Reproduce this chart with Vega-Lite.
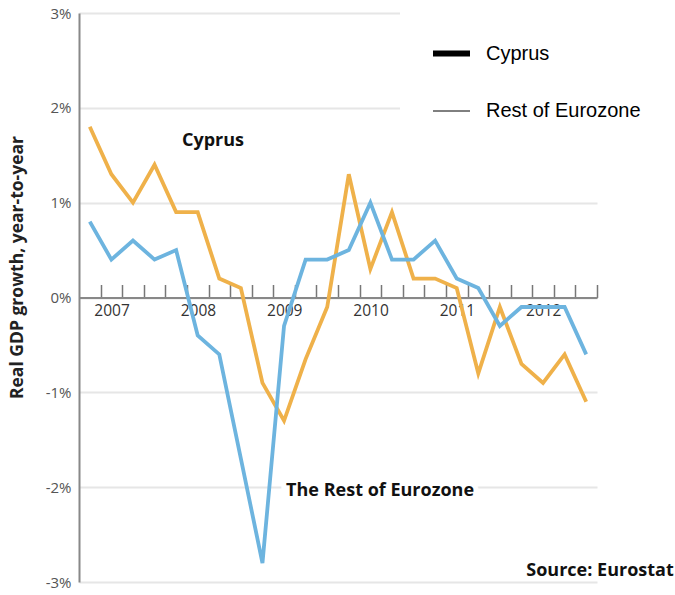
{
  "$schema": "https://vega.github.io/schema/vega-lite/v6.json",
  "width": 518,
  "height": 569,
  "autosize": "none",
  "padding": {"left": 79, "top": 13, "right": 78, "bottom": 13},
  "background": "white",
  "config": {"view": {"stroke": null}, "font": "Open Sans"},
  "datasets": {
    "gdp": [
      {"t": 0, "v": 1.8, "series": "Cyprus"},
      {"t": 1, "v": 1.3, "series": "Cyprus"},
      {"t": 2, "v": 1.0, "series": "Cyprus"},
      {"t": 3, "v": 1.4, "series": "Cyprus"},
      {"t": 4, "v": 0.9, "series": "Cyprus"},
      {"t": 5, "v": 0.9, "series": "Cyprus"},
      {"t": 6, "v": 0.2, "series": "Cyprus"},
      {"t": 7, "v": 0.1, "series": "Cyprus"},
      {"t": 8, "v": -0.9, "series": "Cyprus"},
      {"t": 9, "v": -1.3, "series": "Cyprus"},
      {"t": 10, "v": -0.65, "series": "Cyprus"},
      {"t": 11, "v": -0.1, "series": "Cyprus"},
      {"t": 12, "v": 1.3, "series": "Cyprus"},
      {"t": 13, "v": 0.3, "series": "Cyprus"},
      {"t": 14, "v": 0.9, "series": "Cyprus"},
      {"t": 15, "v": 0.2, "series": "Cyprus"},
      {"t": 16, "v": 0.2, "series": "Cyprus"},
      {"t": 17, "v": 0.1, "series": "Cyprus"},
      {"t": 18, "v": -0.8, "series": "Cyprus"},
      {"t": 19, "v": -0.1, "series": "Cyprus"},
      {"t": 20, "v": -0.7, "series": "Cyprus"},
      {"t": 21, "v": -0.9, "series": "Cyprus"},
      {"t": 22, "v": -0.6, "series": "Cyprus"},
      {"t": 23, "v": -1.1, "series": "Cyprus"},
      {"t": 0, "v": 0.8, "series": "Rest of Eurozone"},
      {"t": 1, "v": 0.4, "series": "Rest of Eurozone"},
      {"t": 2, "v": 0.6, "series": "Rest of Eurozone"},
      {"t": 3, "v": 0.4, "series": "Rest of Eurozone"},
      {"t": 4, "v": 0.5, "series": "Rest of Eurozone"},
      {"t": 5, "v": -0.4, "series": "Rest of Eurozone"},
      {"t": 6, "v": -0.6, "series": "Rest of Eurozone"},
      {"t": 7, "v": -1.7, "series": "Rest of Eurozone"},
      {"t": 8, "v": -2.8, "series": "Rest of Eurozone"},
      {"t": 9, "v": -0.3, "series": "Rest of Eurozone"},
      {"t": 10, "v": 0.4, "series": "Rest of Eurozone"},
      {"t": 11, "v": 0.4, "series": "Rest of Eurozone"},
      {"t": 12, "v": 0.5, "series": "Rest of Eurozone"},
      {"t": 13, "v": 1.0, "series": "Rest of Eurozone"},
      {"t": 14, "v": 0.4, "series": "Rest of Eurozone"},
      {"t": 15, "v": 0.4, "series": "Rest of Eurozone"},
      {"t": 16, "v": 0.6, "series": "Rest of Eurozone"},
      {"t": 17, "v": 0.2, "series": "Rest of Eurozone"},
      {"t": 18, "v": 0.1, "series": "Rest of Eurozone"},
      {"t": 19, "v": -0.3, "series": "Rest of Eurozone"},
      {"t": 20, "v": -0.1, "series": "Rest of Eurozone"},
      {"t": 21, "v": -0.1, "series": "Rest of Eurozone"},
      {"t": 22, "v": -0.1, "series": "Rest of Eurozone"},
      {"t": 23, "v": -0.6, "series": "Rest of Eurozone"}
    ],
    "notes": [
      {"t": 5.71, "v": 1.645, "label": "Cyprus"},
      {"t": 13.45, "v": -2.04, "label": "The Rest of Eurozone"},
      {"t": 23.64, "v": -2.88, "label": "Source: Eurostat"}
    ]
  },
  "layer": [
    {
      "data": {"name": "notes"},
      "mark": {"type": "text", "fontWeight": "bold", "fontSize": 18, "stroke": "white", "strokeWidth": 10, "color": "white", "align": "center", "baseline": "middle"},
      "encoding": {
        "x": {"field": "t", "type": "quantitative"},
        "y": {"field": "v", "type": "quantitative"},
        "text": {"field": "label"}
      }
    },
    {
      "data": {"name": "gdp"},
      "mark": {"type": "line", "strokeWidth": 3.8},
      "encoding": {
        "x": {
          "field": "t",
          "type": "quantitative",
          "scale": {"domain": [-0.5, 23.5], "nice": false, "zero": false},
          "axis": {
            "orient": "bottom",
            "offset": -284.5,
            "values": [0.5, 1.5, 2.5, 3.5, 4.5, 5.5, 6.5, 7.5, 8.5, 9.5, 10.5, 11.5, 12.5, 13.5, 14.5, 15.5, 16.5, 17.5, 18.5, 19.5, 20.5, 21.5, 22.5, 23.5],
            "tickCount": 40,
            "tickSize": -13,
            "tickColor": "#777",
            "tickWidth": 1.5,
            "domainColor": "#888",
            "domainWidth": 2,
            "labelExpr": "(datum.value - 0.5) % 4 == 0 && datum.value < 23 ? '' + (2007 + floor(datum.value / 4)) : ''",
            "labelFontSize": 15.5,
            "labelColor": "#333",
            "labelPadding": 19,
            "labelOffset": 11,
            "labelFlush": false,
            "labelOverlap": false,
            "grid": false,
            "title": null
          }
        },
        "y": {
          "field": "v",
          "type": "quantitative",
          "scale": {"domain": [-3, 3], "nice": false},
          "axis": {
            "values": [-3, -2, -1, 0, 1, 2, 3],
            "labelExpr": "datum.value + '%'",
            "ticks": false,
            "domainColor": "#888",
            "domainWidth": 2,
            "gridColor": "#e6e6e6",
            "gridWidth": 2,
            "labelFontSize": 15,
            "labelColor": "#555",
            "labelPadding": 8,
            "title": "Real GDP growth, year-to-year",
            "titleFontSize": 17.5,
            "titleFontWeight": "bold",
            "titleColor": "#222",
            "titleX": -57,
            "titleY": 254,
            "titleAngle": -90,
            "titleAlign": "center",
            "titleBaseline": "alphabetic"
          }
        },
        "color": {
          "field": "series",
          "type": "nominal",
          "scale": {"range": ["#EFB14A", "#6DB4DF"]},
          "legend": null
        }
      }
    },
    {
      "data": {"name": "gdp"},
      "transform": [{"filter": "datum.t < 0"}],
      "mark": {"type": "line"},
      "encoding": {
        "x": {"field": "t", "type": "quantitative"},
        "y": {"field": "v", "type": "quantitative"},
        "strokeWidth": {
          "field": "series",
          "type": "ordinal",
          "scale": {"domain": ["Cyprus", "Rest of Eurozone"], "range": [6, 1]},
          "legend": {
            "orient": "none",
            "legendX": 321,
            "legendY": -11,
            "title": null,
            "symbolType": "stroke",
            "symbolSize": 1369,
            "symbolStrokeColor": "black",
            "symbolOpacity": 1,
            "labelFont": "Liberation Sans",
            "labelFontSize": 20,
            "labelColor": "black",
            "labelOffset": 13,
            "rowPadding": 26,
            "padding": 30,
            "fillColor": "white"
          }
        }
      }
    },
    {
      "data": {"name": "notes"},
      "mark": {"type": "text", "fontWeight": "bold", "fontSize": 18, "color": "#111", "align": "center", "baseline": "middle"},
      "encoding": {
        "x": {"field": "t", "type": "quantitative"},
        "y": {"field": "v", "type": "quantitative"},
        "text": {"field": "label"}
      }
    }
  ]
}
